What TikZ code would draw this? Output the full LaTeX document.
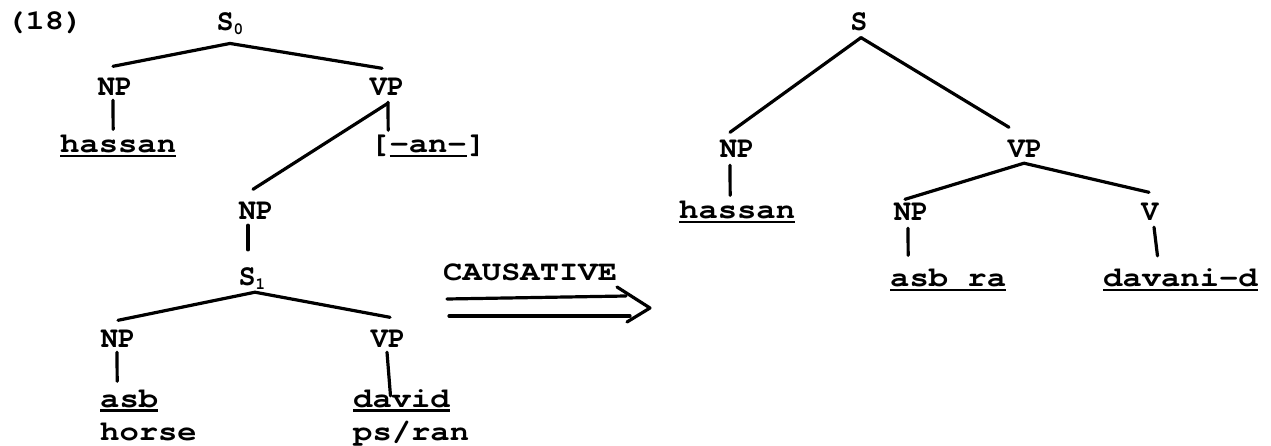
\documentclass[tikz,border=0pt]{standalone}
\usepackage{fontspec}
\newfontfamily\twf{texgyrecursor-bold.otf}[FakeStretch=1.15]
\newfontfamily\labf{texgyrecursor-bold.otf}[FakeStretch=0.95]
\newcommand\tul[1]{\setbox0=\hbox{#1}\rlap{\rule[-4.5pt]{\wd0}{2.2pt}}\box0}
\newcommand\lsub[1]{\raisebox{-4pt}{\fontsize{17}{17}\selectfont #1}}
\tikzset{
  word/.style={inner sep=0pt, anchor=base west, font=\twf\fontsize{28}{32}\selectfont},
  lab/.style={inner sep=0pt, anchor=base, font=\labf\fontsize{30}{34}\selectfont},
  edge/.style={line width=3.2pt, line cap=round},
}
\begin{document}
\begin{tikzpicture}[x=1pt, y=-1pt]
\useasboundingbox (0,0) rectangle (1271,446);
% label
\node[word] (ex) at (6,30) {(18)};
% left tree
\node[lab] (S0) at (230,31) {S\lsub{0}};
\node[lab] (NP1) at (115,96) {NP};
\node[lab] (VP1) at (387,96) {VP};
\node[word] (has1) at (60,153) {\tul{hassan}};
\node[word] (an) at (370,153) {[\tul{-an-}]};
\node[lab] (NP2) at (256,220) {NP};
\node[lab] (S1) at (252,286) {S\lsub{1}};
\node[lab] (NP3) at (118,347) {NP};
\node[lab] (VP3) at (388,347) {VP};
\node[word] (asb) at (100,407) {\tul{asb}};
\node[word] (horse) at (100,440) {horse};
\node[word] (david) at (353,407) {\tul{david}};
\node[word] (psran) at (353,440) {ps/ran};
\draw[edge] ([shift={(0,8)}]S0.south) -- ([shift={(-2,-12)}]NP1.north);
\draw[edge] ([shift={(0,8)}]S0.south) -- ([shift={(-5,-10)}]VP1.north);
\draw[edge] ([shift={(-2,4)}]NP1.south) -- ([shift={(-5,-6)}]has1.north);
\draw[edge] ([shift={(1,6)}]VP1.south) -- ([shift={(-40,-5)}]an.north);
\draw[edge] ([shift={(1,7)}]VP1.south) -- ([shift={(-3,-13)}]NP2.north);
\draw[edge] ([shift={(-8,5)}]NP2.south) -- ([shift={(-4,-18)}]S1.north);
\draw[edge] ([shift={(3,2)}]S1.south) -- ([shift={(0,-9)}]NP3.north);
\draw[edge] ([shift={(3,2)}]S1.south) -- ([shift={(2,-12)}]VP3.north);
\draw[edge] ([shift={(-1,5)}]NP3.south) -- ([shift={(-12,-8)}]asb.north);
\draw[edge] ([shift={(-1,5)}]VP3.south) -- ([shift={(-11,7)}]david.north);
% arrow
\node[word] (caus) at (443,280) {CAUSATIVE};
\coordinate (u1) at (447,299);
\coordinate (u2) at (626,296);
\coordinate (l1) at (449,316);
\coordinate (l2) at (630,316);
\coordinate (h1) at (617,287);
\coordinate (tip) at (650,308);
\coordinate (h2) at (627,322);
\draw[edge] (u1) -- (u2);
\draw[edge] (l1) -- (l2);
\draw[edge, line join=round] (h1) -- (tip) -- (h2);
% right tree
\node[lab] (S2) at (859,31) {S};
\node[lab] (NP4) at (737,158) {NP};
\node[lab] (VP4) at (1025,158) {VP};
\node[word] (has2) at (679,219) {\tul{hassan}};
\node[lab] (NP5) at (911,221) {NP};
\node[lab] (V) at (1150,221) {V};
\node[word] (asbra) at (890,287) {\tul{asb ra}};
\node[word] (dav) at (1103,287) {\tul{davani-d}};
\draw[edge] ([shift={(2,6)}]S2.south) -- ([shift={(-7,-8)}]NP4.north);
\draw[edge] ([shift={(2,6)}]S2.south) -- ([shift={(-16,-13)}]VP4.north);
\draw[edge] ([shift={(-7,7)}]NP4.south) -- ([shift={(-7,-6)}]has2.north);
\draw[edge] ([shift={(-1,5)}]VP4.south) -- ([shift={(-6,-4)}]NP5.north);
\draw[edge] ([shift={(-1,5)}]VP4.south) -- ([shift={(-1,-11)}]V.north);
\draw[edge] ([shift={(-3,7)}]NP5.south) -- ([shift={(-40,-14)}]asbra.north);
\draw[edge] ([shift={(4,6)}]V.south) -- ([shift={(-23,-13)}]dav.north);
\end{tikzpicture}
\end{document}
